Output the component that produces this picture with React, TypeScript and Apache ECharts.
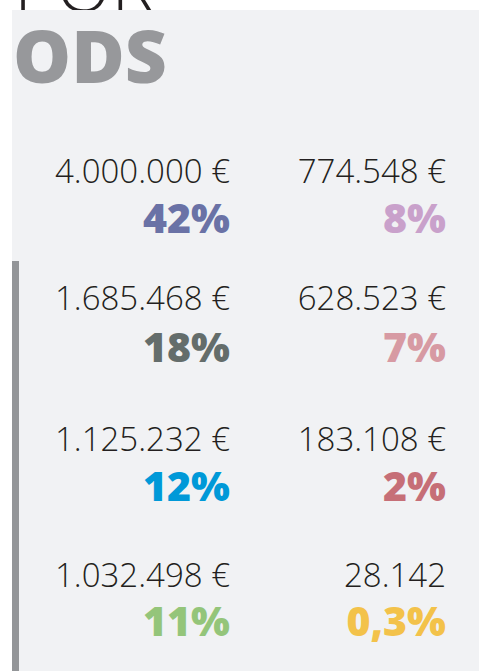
import React, { useEffect, useRef } from "react";
import * as echarts from "echarts";

const amounts = [
  "4.000.000 €", "774.548 €",
  "1.685.468 €", "628.523 €",
  "1.125.232 €", "183.108 €",
  "1.032.498 €", "28.142",
];
const percents = ["42%", "8%", "18%", "7%", "12%", "2%", "11%", "0,3%"];
const colors = [
  "#6a72a6", "#c9a1cb",
  "#646d6b", "#d79aa3",
  "#0099d8", "#c66f77",
  "#94c57a", "#f3c24a",
];
const titleTop = "POR";
const titleMain = "ODS";

const colRight = [230, 446];
const rowAmountY = [170, 297, 438, 574];
const rowPctY = [217, 346, 485, 620];

export default function App() {
  const ref = useRef<HTMLDivElement>(null);
  useEffect(() => {
    document.body.style.margin = "0";
    const chart = echarts.init(ref.current!, null, { renderer: "svg" });
    const font = "'Open Sans', sans-serif";
    const elements: any[] = [
      {
        type: "text", x: 14, y: -16, z: 1,
        style: { text: titleTop, fill: "#231f20", fontSize: 72, fontWeight: 300, fontFamily: font, align: "left", verticalAlign: "middle" },
      },
      {
        type: "rect", z: 2, shape: { x: 12, y: 10, width: 467, height: 661 },
        style: { fill: "#f1f2f4" },
      },
      {
        type: "rect", z: 3, shape: { x: 12, y: 261, width: 7, height: 410 },
        style: { fill: "#939598" },
      },
      {
        type: "text", x: 13, y: 54, z: 3,
        style: { text: titleMain, fill: "#97989b", fontSize: 73, fontWeight: 800, fontFamily: font, align: "left", verticalAlign: "middle" },
      },
    ];
    amounts.forEach((a, i) => {
      const col = i % 2;
      const row = Math.floor(i / 2);
      elements.push({
        type: "text", x: colRight[col], y: rowAmountY[row], z: 3,
        style: { text: a, fill: "#231f20", fontSize: 33, fontWeight: 300, fontFamily: font, align: "right", verticalAlign: "middle" },
      });
      elements.push({
        type: "text", x: colRight[col], y: rowPctY[row], z: 3,
        style: { text: percents[i], fill: colors[i], fontSize: 41, fontWeight: 800, fontFamily: font, align: "right", verticalAlign: "middle" },
      });
    });
    chart.setOption({
      animation: false,
      backgroundColor: "#ffffff",
      graphic: { elements },
    });
    return () => chart.dispose();
  }, []);
  return <div ref={ref} style={{ width: 479, height: 671 }} />;
}
